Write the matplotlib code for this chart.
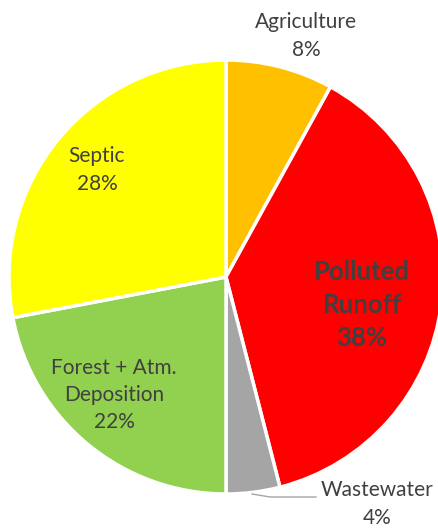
import matplotlib
matplotlib.use("Agg")
import matplotlib.pyplot as plt

plt.rcParams['font.family'] = ['Lato', 'DejaVu Sans']

# slices clockwise from 12 o'clock
labels = ['Agriculture', 'Polluted\nRunoff', 'Wastewater', 'Forest + Atm.\nDeposition', 'Septic']
shares = [8, 38, 4, 22, 28]
colors = ['#FFC000', '#FF0000', '#A5A5A5', '#92D050', '#FFFF00']

W, H = 438, 529
fig = plt.figure(figsize=(W / 100, H / 100), dpi=100)
ax = fig.add_axes([0, 0, 1, 1])

cx, cy, r = 226, H - 277, 217
ax.pie(shares, colors=colors, startangle=90, counterclock=False,
       center=(cx, cy), radius=r, frame=True,
       wedgeprops=dict(edgecolor='white', linewidth=2.5))

ax.set_xlim(0, W)
ax.set_ylim(0, H)
ax.set_aspect('equal')
ax.axis('off')

txt = '#404040'
# label positions in pixels (x, y from top)
pos = [(306, 36), (362, 305), (377, 504), (114, 395), (97, 170)]
for lab, s, (x, y) in zip(labels, shares, pos):
    bold = s == 38
    ax.text(x, H - y, f'{lab}\n{s}%', ha='center', va='center',
            color=txt, fontsize=18.5 if bold else 15,
            fontweight='bold' if bold else 'normal', linespacing=1.45)

# leader line for the wastewater label
ax.plot([252, 270, 316], [H - 494, H - 497, H - 497], color='#A5A5A5', lw=1)

fig.savefig('out.png', dpi=100)
